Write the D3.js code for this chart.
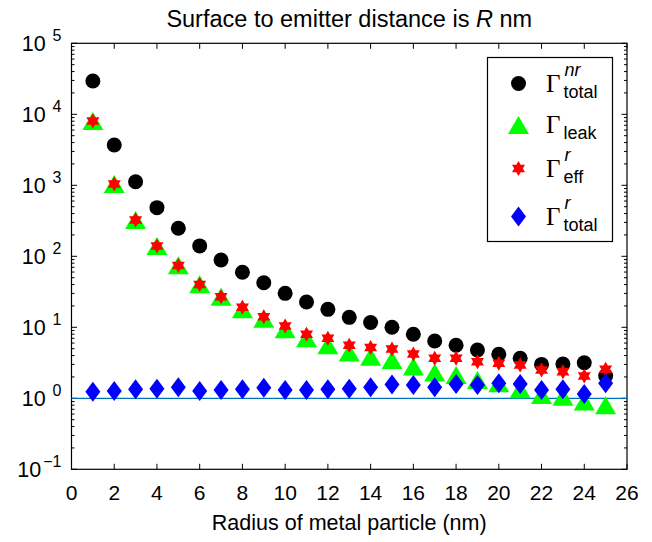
<!DOCTYPE html>
<html>
<head>
<meta charset="utf-8">
<script src="https://cdn.jsdelivr.net/npm/d3@7"></script>
<style>
  body { margin: 0; background: #fff; }
  text { font-family: "Liberation Sans", Arial, Helvetica, sans-serif; fill: #000; }
</style>
</head>
<body>
<svg id="chart"></svg>
<script>
// radius of metal particle (nm)
const radius = d3.range(1, 26);

const totalNr = [29400, 3700, 1120, 484, 248, 140, 88.7, 59.6, 42.5, 30.1, 22.7, 17.9, 13.8,
  11.7, 10.0, 8.0, 6.4, 5.6, 4.8, 4.17, 3.66, 3.0, 3.04, 3.17, 2.08];
const leak = [8050, 1040, 324, 140, 75, 40.3, 27, 17.9, 13.2, 9.4, 7.0, 5.6, 4.4,
  3.85, 3.46, 2.8, 2.3, 2.13, 1.81, 1.63, 1.34, 1.11, 1.05, 0.90, 0.80];
const effR = [8050, 1040, 324, 140, 74, 40, 27, 19.1, 14.1, 10.4, 8.0, 7.0, 5.6,
  5.2, 4.94, 4.2, 3.66, 3.66, 3.28, 3.11, 2.94, 2.5, 2.37, 2.06, 2.56];
const totalR = [1.24, 1.27, 1.34, 1.36, 1.43, 1.27, 1.31, 1.34, 1.41, 1.31, 1.31, 1.34, 1.36,
  1.43, 1.57, 1.54, 1.43, 1.59, 1.54, 1.63, 1.59, 1.31, 1.34, 1.15, 1.63];

const xTicks = d3.range(0, 27, 2);
const yDecades = [-1, 0, 1, 2, 3, 4, 5];

const width = 652, height = 542;
const margin = { left: 71.5, right: 25, top: 43.3, bottom: 72.7 };

const svg = d3.select('#chart')
  .attr('width', width)
  .attr('height', height);

const x = d3.scaleLinear().domain([0, 26]).range([margin.left, width - margin.right]);
const y = d3.scaleLog().domain([0.1, 1e5]).range([height - margin.bottom, margin.top]);

const x0 = x.range()[0], x1 = x.range()[1];
const y0 = y.range()[0], y1 = y.range()[1];

// x ticks, bottom and top, pointing inwards
const xAxisG = svg.append('g').attr('class', 'x-ticks');
xTicks.forEach(t => {
  xAxisG.append('line').attr('x1', x(t)).attr('x2', x(t)).attr('y1', y0).attr('y2', y0 - 5.5)
    .attr('stroke', '#000');
  xAxisG.append('line').attr('x1', x(t)).attr('x2', x(t)).attr('y1', y1).attr('y2', y1 + 5.5)
    .attr('stroke', '#000');
  xAxisG.append('text')
    .attr('x', x(t))
    .attr('y', y0 + 31)
    .attr('text-anchor', 'middle')
    .attr('font-size', 21)
    .text(t);
});

// y ticks (log): majors at decades, minors 2..9
const yAxisG = svg.append('g').attr('class', 'y-ticks');
yDecades.forEach(e => {
  const v = Math.pow(10, e);
  [[x0, 1], [x1, -1]].forEach(([xx, dir]) => {
    yAxisG.append('line').attr('x1', xx).attr('x2', xx + dir * 5.5)
      .attr('y1', y(v)).attr('y2', y(v)).attr('stroke', '#000');
    if (e < 5) {
      d3.range(2, 10).forEach(m => {
        yAxisG.append('line').attr('x1', xx).attr('x2', xx + dir * 3)
          .attr('y1', y(v * m)).attr('y2', y(v * m)).attr('stroke', '#000');
      });
    }
  });
  const lab = yAxisG.append('text')
    .attr('x', x0 - 10)
    .attr('y', y(v) + 7.5)
    .attr('text-anchor', 'end')
    .attr('font-size', 21.5);
  lab.append('tspan').text('10');
  lab.append('tspan')
    .attr('dx', e < 0 ? 2 : 7)
    .attr('dy', -10)
    .attr('font-size', 16)
    .text(e < 0 ? '\u2212' + (-e) : e);
});

// plot box
svg.append('rect')
  .attr('x', x0).attr('y', y1)
  .attr('width', x1 - x0).attr('height', y0 - y1)
  .attr('fill', 'none').attr('stroke', '#000').attr('stroke-width', 1.2);

// reference line at 1
svg.append('line')
  .attr('x1', x0).attr('x2', x1)
  .attr('y1', y(1)).attr('y2', y(1))
  .attr('stroke', '#0072BD').attr('stroke-width', 1.2);

// marker shapes
const triPath = (w, h) => `M0,${-h / 2}L${w / 2},${h / 2}L${-w / 2},${h / 2}Z`;
const diamondPath = (w, h) => `M0,${-h / 2}L${w / 2},0L0,${h / 2}L${-w / 2},0Z`;
function hexagramPath(R) {
  const r = R / Math.sqrt(3);
  const pts = d3.range(12).map(i => {
    const a = -Math.PI / 2 + i * Math.PI / 6;
    const rr = i % 2 === 0 ? R : r;
    return [rr * Math.cos(a), rr * Math.sin(a)];
  });
  return 'M' + pts.map(p => p.join(',')).join('L') + 'Z';
}

const marks = svg.append('g').attr('class', 'marks');

marks.append('g').selectAll('circle')
  .data(radius)
  .enter()
  .append('circle')
  .attr('cx', d => x(d))
  .attr('cy', (d, i) => y(totalNr[i]))
  .attr('r', 7.5)
  .attr('fill', '#000');

marks.append('g').selectAll('path')
  .data(radius)
  .enter()
  .append('path')
  .attr('d', triPath(21, 18))
  .attr('transform', (d, i) => `translate(${x(d)},${y(leak[i])})`)
  .attr('fill', '#00ff00');

marks.append('g').selectAll('path')
  .data(radius)
  .enter()
  .append('path')
  .attr('d', hexagramPath(7.5))
  .attr('transform', (d, i) => `translate(${x(d)},${y(effR[i])})`)
  .attr('fill', '#ff0000');

marks.append('g').selectAll('path')
  .data(radius)
  .enter()
  .append('path')
  .attr('d', diamondPath(15, 20))
  .attr('transform', (d, i) => `translate(${x(d)},${y(totalR[i])})`)
  .attr('fill', '#0000ff');

// title
const title = svg.append('text')
  .attr('x', (x0 + x1) / 2)
  .attr('y', 27)
  .attr('text-anchor', 'middle')
  .attr('font-size', 23.5);
title.append('tspan').text('Surface to emitter distance is ');
title.append('tspan').attr('font-style', 'italic').text('R');
title.append('tspan').text(' nm');

// x label
svg.append('text')
  .attr('x', (x0 + x1) / 2)
  .attr('y', 530)
  .attr('text-anchor', 'middle')
  .attr('font-size', 21.5)
  .text('Radius of metal particle (nm)');

// legend
const legendItems = [
  { sup: 'nr', sub: 'total', shape: 'circle', color: '#000' },
  { sup: '', sub: 'leak', shape: 'tri', color: '#00ff00' },
  { sup: 'r', sub: 'eff', shape: 'star', color: '#ff0000' },
  { sup: 'r', sub: 'total', shape: 'diamond', color: '#0000ff' }
];
const legend = svg.append('g').attr('class', 'legend');
legend.append('rect')
  .attr('x', 487.5).attr('y', 57.5)
  .attr('width', 125).attr('height', 184)
  .attr('fill', '#fff').attr('stroke', '#000').attr('stroke-width', 1.2);

const rowY = [83.5, 125, 168.5, 216.5];
legendItems.forEach((it, i) => {
  const g = legend.append('g').attr('transform', `translate(518.5,${rowY[i]})`);
  if (it.shape === 'circle') g.append('circle').attr('r', 7.5).attr('fill', it.color);
  if (it.shape === 'tri') g.append('path').attr('d', triPath(21, 18)).attr('fill', it.color);
  if (it.shape === 'star') g.append('path').attr('d', hexagramPath(7.5)).attr('fill', it.color);
  if (it.shape === 'diamond') g.append('path').attr('d', diamondPath(15, 20)).attr('fill', it.color);

  g.append('text')
    .attr('x', 27.5)
    .attr('y', 8)
    .attr('font-size', 25)
    .style('font-family', '"Liberation Serif", "Times New Roman", serif')
    .text('\u0393');
  if (it.sup) {
    g.append('text')
      .attr('x', 46)
      .attr('y', -8)
      .attr('font-size', 18)
      .attr('font-style', 'italic')
      .text(it.sup);
  }
  g.append('text')
    .attr('x', 45)
    .attr('y', 14)
    .attr('font-size', 18)
    .text(it.sub);
});
</script>
</body>
</html>
